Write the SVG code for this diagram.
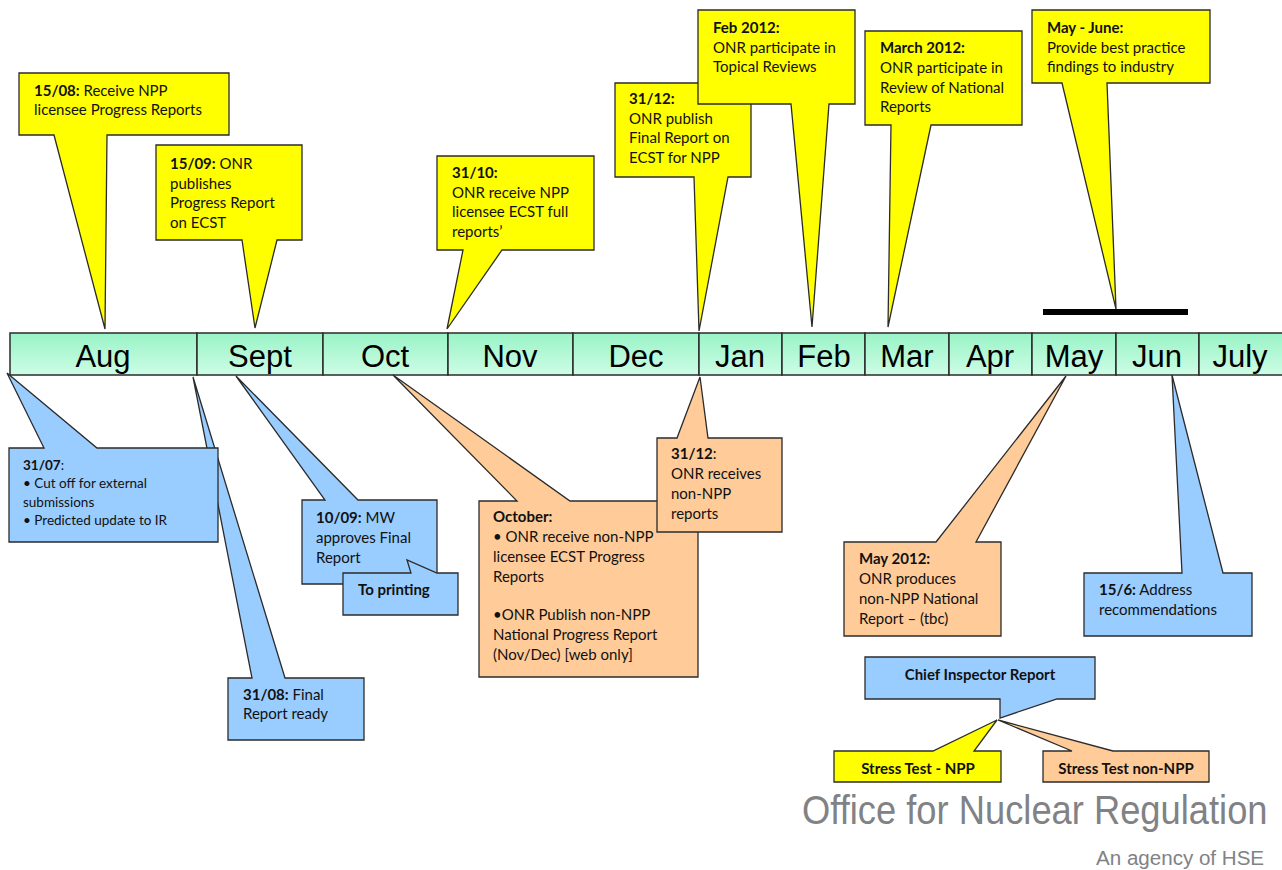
<svg xmlns="http://www.w3.org/2000/svg" width="1282" height="870" viewBox="0 0 1282 870">
<defs>
<linearGradient id="barGrad" x1="0" y1="0" x2="0" y2="1">
<stop offset="0" stop-color="#99f3c6"/>
<stop offset="1" stop-color="#cdfde6"/>
</linearGradient>
<style>
.month{fill:url(#barGrad);stroke:#2b2b2b;stroke-width:1.5}
.mlabel{font-family:"Liberation Sans",Arial,sans-serif;font-size:31px;fill:#000;text-anchor:middle}
.cy{fill:#ffff00;stroke:#2b2b2b;stroke-width:1.3;stroke-linejoin:miter}
.cb{fill:#99ccff;stroke:#2b2b2b;stroke-width:1.3}
.co{fill:#ffcc99;stroke:#2b2b2b;stroke-width:1.3}
.t{font-family:Lato,"Open Sans","Liberation Sans",sans-serif;font-size:15px;fill:#111}
.ts{font-family:Lato,"Open Sans","Liberation Sans",sans-serif;font-size:13.5px;fill:#111}
.tl{font-family:Lato,"Open Sans","Liberation Sans",sans-serif;font-size:15px;fill:#111}
.b{font-weight:bold}
.c{text-anchor:middle}
.logo{font-family:"Liberation Sans","Open Sans",sans-serif;fill:#808285}
</style>
</defs>
<rect width="1282" height="870" fill="#ffffff"/>

<g id="timeline">
<rect class="month" x="10" y="333" width="187" height="42"/>
<rect class="month" x="197" y="333" width="126" height="42"/>
<rect class="month" x="323" y="333" width="125" height="42"/>
<rect class="month" x="448" y="333" width="125" height="42"/>
<rect class="month" x="573" y="333" width="126" height="42"/>
<rect class="month" x="699" y="333" width="83" height="42"/>
<rect class="month" x="782" y="333" width="83" height="42"/>
<rect class="month" x="865" y="333" width="84" height="42"/>
<rect class="month" x="949" y="333" width="83" height="42"/>
<rect class="month" x="1032" y="333" width="84" height="42"/>
<rect class="month" x="1116" y="333" width="83" height="42"/>
<rect class="month" x="1199" y="333" width="90" height="42"/>
<text class="mlabel" x="103" y="367">Aug</text>
<text class="mlabel" x="260" y="367">Sept</text>
<text class="mlabel" x="385" y="367">Oct</text>
<text class="mlabel" x="510" y="367">Nov</text>
<text class="mlabel" x="636" y="367">Dec</text>
<text class="mlabel" x="740" y="367">Jan</text>
<text class="mlabel" x="824" y="367">Feb</text>
<text class="mlabel" x="907" y="367">Mar</text>
<text class="mlabel" x="990" y="367">Apr</text>
<text class="mlabel" x="1074" y="367">May</text>
<text class="mlabel" x="1157" y="367">Jun</text>
<text class="mlabel" x="1240" y="367">July</text>
</g>

<g id="connectors">
<rect x="1043" y="309" width="145" height="6" fill="#000"/>
</g>

<g id="c1508">
<path class="cy" d="M19,73 H229 V135 H107 L105,329 L54,135 H19 Z"/>
<text class="t" x="34" y="96"><tspan class="b">15/08:</tspan> Receive NPP</text>
<text class="t" x="34" y="115">licensee Progress Reports</text>
</g>

<g id="c1509">
<path class="cy" d="M156,145 H302 V240 H277 L255,328 L242,240 H156 Z"/>
<text class="t" x="170" y="169"><tspan class="b">15/09:</tspan> ONR</text>
<text class="t" x="170" y="189">publishes</text>
<text class="t" x="170" y="208">Progress Report</text>
<text class="t" x="170" y="228">on ECST</text>
</g>

<g id="c3110">
<path class="cy" d="M437,156 H594 V250 H502 L447,329 L463,250 H437 Z"/>
<text class="t b" x="452" y="178">31/10:</text>
<text class="t" x="452" y="198">ONR receive NPP</text>
<text class="t" x="452" y="217">licensee ECST full</text>
<text class="t" x="452" y="237">reports’</text>
</g>

<g id="c3112top">
<path class="cy" d="M615,83 H751 V177 H728 L699,331 L694,177 H615 Z"/>
<text class="t b" x="629" y="104">31/12:</text>
<text class="t" x="629" y="124">ONR publish</text>
<text class="t" x="629" y="143">Final Report on</text>
<text class="t" x="629" y="163">ECST for NPP</text>
</g>

<g id="cfeb">
<path class="cy" d="M698,10 H855 V104 H829 L812,327 L791,104 H698 Z"/>
<text class="t b" x="713" y="33">Feb 2012:</text>
<text class="t" x="713" y="53">ONR participate in</text>
<text class="t" x="713" y="72">Topical Reviews</text>
</g>

<g id="cmar">
<path class="cy" d="M865,31 H1022 V125 H931 L888,327 L891,125 H865 Z"/>
<text class="t b" x="880" y="53">March 2012:</text>
<text class="t" x="880" y="73">ONR participate in</text>
<text class="t" x="880" y="93">Review of National</text>
<text class="t" x="880" y="112">Reports</text>
</g>

<g id="cmayjune">
<path class="cy" d="M1032,10 H1210 V83 H1107 L1116,309 L1062,83 H1032 Z"/>
<text class="t b" x="1047" y="33">May - June:</text>
<text class="t" x="1047" y="53">Provide best practice</text>
<text class="t" x="1047" y="72">findings to industry</text>
</g>

<g id="c3108">
<path class="cb" d="M228,678 H252 L193,377 L285,678 H364 V740 H228 Z"/>
<text class="t" x="243" y="700"><tspan class="b">31/08:</tspan> Final</text>
<text class="t" x="243" y="719">Report ready</text>
</g>

<g id="c3107">
<path class="cb" d="M9,448 H44 L7,373 L97,448 H218 V542 H9 Z"/>
<text class="ts" x="23" y="470"><tspan class="b">31/07</tspan>:</text>
<text class="ts" x="23" y="488">• Cut off for external</text>
<text class="ts" x="23" y="507">submissions</text>
<text class="ts" x="23" y="525">• Predicted update to IR</text>
</g>

<g id="c1009">
<path class="cb" d="M302,500 H325 L236,376 L358,500 H437 V584 H302 Z"/>
<text class="t" x="316" y="523"><tspan class="b">10/09:</tspan> MW</text>
<text class="t" x="316" y="543">approves Final</text>
<text class="t" x="316" y="563">Report</text>
</g>

<g id="cprinting">
<path class="cb" d="M343,573 H411 L407,560 L437,573 H458 V615 H343 Z"/>
<text class="tl b" x="358" y="595">To printing</text>
</g>

<g id="coct">
<path class="co" d="M479,501 H517 L393,375 L570,501 H698 V677 H479 Z"/>
<text class="t b" x="493" y="522">October:</text>
<text class="t" x="493" y="542">•  ONR receive non-NPP</text>
<text class="t" x="493" y="562">licensee ECST Progress</text>
<text class="t" x="493" y="582">Reports</text>
<text class="t" x="493" y="620">•ONR Publish non-NPP</text>
<text class="t" x="493" y="640">National Progress Report</text>
<text class="t" x="493" y="660">(Nov/Dec) [web only]</text>
</g>

<g id="c3112bottom">
<path class="co" d="M657,438 H677 L700,377 L708,438 H782 V532 H657 Z"/>
<text class="t" x="671" y="459"><tspan class="b">31/12</tspan>:</text>
<text class="t" x="671" y="479">ONR receives</text>
<text class="t" x="671" y="499">non-NPP</text>
<text class="t" x="671" y="519">reports</text>
</g>

<g id="cmay2012">
<path class="co" d="M844,542 H936 L1066,376 L976,542 H1001 V636 H844 Z"/>
<text class="t b" x="859" y="564">May 2012:</text>
<text class="t" x="859" y="584">ONR produces</text>
<text class="t" x="859" y="604">non-NPP National</text>
<text class="t" x="859" y="624">Report – (tbc)</text>
</g>

<g id="c156">
<path class="cb" d="M1084,573 H1182 L1172,375 L1223,573 H1252 V636 H1084 Z"/>
<text class="t" x="1099" y="595"><tspan class="b">15/6:</tspan> Address</text>
<text class="t" x="1099" y="615">recommendations</text>
</g>

<g id="cchief">
<path class="cb" d="M865,657 H1095 V699 H1057 L1000,718 L1000,699 H865 Z"/>
<text class="tl b c" x="980" y="680">Chief Inspector Report</text>
</g>

<g id="cstressnpp">
<path class="cy" d="M834,751 H933 L997,720 L974,751 H1001 V782 H834 Z"/>
<text class="tl b c" x="918" y="774">Stress Test - NPP</text>
</g>

<g id="cstressnon">
<path class="co" d="M1043,751 H1072 L998,720 L1113,751 H1209 V782 H1043 Z"/>
<text class="tl b c" x="1126" y="774">Stress Test non-NPP</text>
</g>

<g id="logo">
<text class="logo" transform="translate(802,824) scale(0.886,1)" x="0" y="0" font-size="41">Office for Nuclear Regulation</text>
<text class="logo" transform="translate(1096,865) scale(0.98,1)" x="0" y="0" font-size="21">An agency of HSE</text>
</g>
</svg>
